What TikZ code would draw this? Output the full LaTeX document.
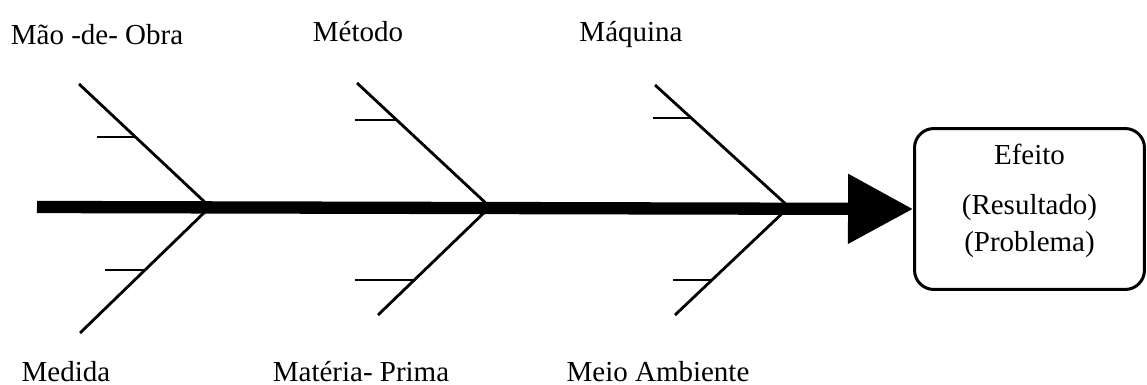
\documentclass[tikz,border=0pt]{standalone}
\usepackage{fontspec}
\setmainfont{Liberation Serif}
\usetikzlibrary{arrows.meta}

\begin{document}
\begin{tikzpicture}[x=0.02cm,y=-0.02cm,line width=1.6pt,
  every node/.style={font=\fontsize{16.5}{21}\selectfont},
  espinha/.style={line width=7pt,-{Triangle[length=37pt,width=38pt]}},
  causa/.style={anchor=base}]
  \useasboundingbox (0,0) rectangle (1147,385);
  % efeito (caixa da direita)
  \node[draw,rounded corners=11pt,line width=1.7pt,align=center,
        minimum width=4.6cm,minimum height=3.22cm,text depth=12.5pt]
        (efeito) at (1029.5,209) {Efeito\\[7.4pt](Resultado)\\(Problema)};
  % espinha central
  \coordinate (cauda) at (37,207);
  \draw[espinha] (cauda) -- (efeito.west);
  % ossos: juncao / ponta de cima / ponta de baixo
  \foreach \n/\jx/\ux/\uy/\lx/\ly in {1/210/79/84/80/333,2/490/357/83/378/315,3/789/655/85/675/315}{
    \coordinate (j\n) at (\jx,207);
    \draw (\ux,\uy) -- (j\n) -- (\lx,\ly);}
  % espinhas menores
  \foreach \xa/\xb/\y in {97/135/137,105/145/270,355/397/120,355/414/280,653/691/118,673/712/280}
    \draw (\xa,\y) -- (\xb,\y);
  % causas (6M)
  \node[causa] (maoobra) at (97,45) {Mão -de- Obra};
  \node[causa] (metodo) at (358,42) {Método};
  \node[causa] (maquina) at (631,42) {Máquina};
  \node[causa] (medida) at (66,381) {Medida};
  \node[causa] (materia) at (361,381) {Matéria- Prima};
  \node[causa] (meio) at (658,381) {Meio Ambiente};
\end{tikzpicture}
\end{document}
